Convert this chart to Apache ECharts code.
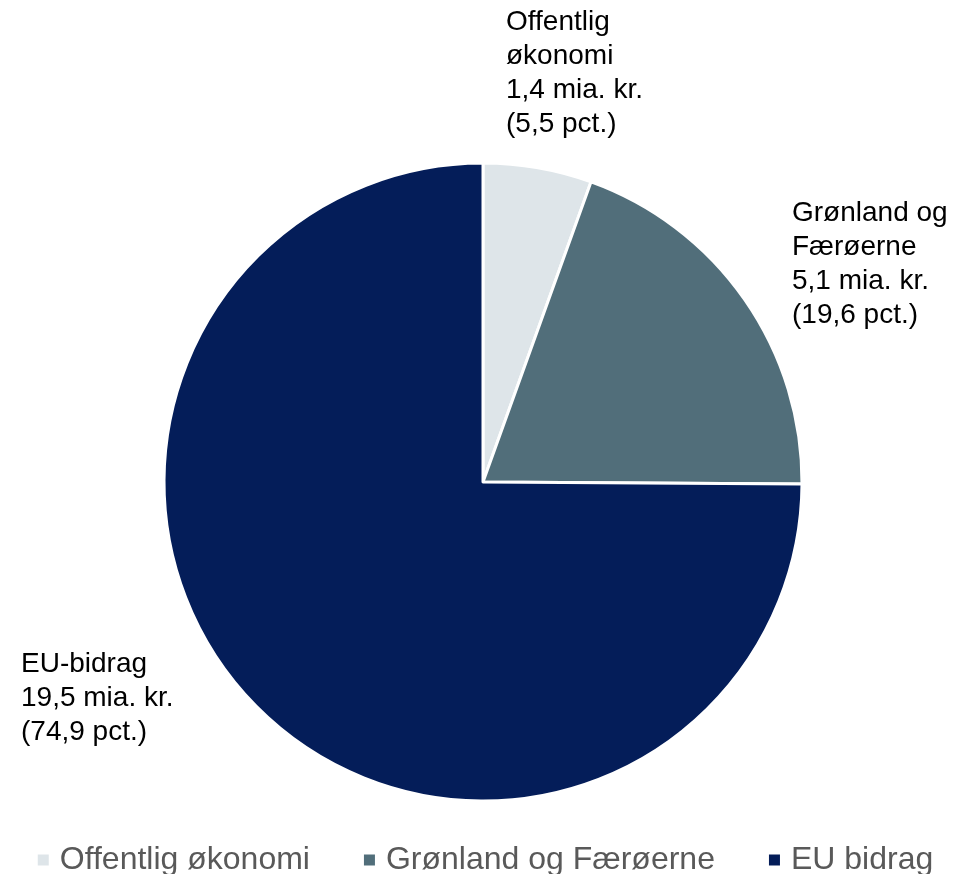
<!DOCTYPE html>
<html>
<head>
<meta charset="utf-8">
<script src="https://cdn.jsdelivr.net/npm/echarts@6/dist/echarts.min.js"></script>
<style>
html,body{margin:0;padding:0;background:#fff;}
#main{width:969px;height:874px;}
</style>
</head>
<body>
<div id="main"></div>
<script>
var categories = ['Offentlig økonomi', 'Grønland og Færøerne', 'EU bidrag'];
var labelNames = ['Offentlig\nøkonomi', 'Grønland og\nFærøerne', 'EU-bidrag'];
var amounts = ['1,4', '5,1', '19,5'];
var pcts = [5.5, 19.6, 74.9];
var colors = ['#dee5e9', '#516e7a', '#041d59'];

var labelPos = [
  {x: 506, y: 5},
  {x: 792, y: 196},
  {x: 21, y: 647}
];

var FONT = "'Liberation Sans', Arial, sans-serif";
var chart = echarts.init(document.getElementById('main'));
var data = categories.map(function (c, i) {
  return { name: c, value: pcts[i], itemStyle: { color: colors[i] } };
});
chart.setOption({
  animation: false,
  legend: {
    top: 839,
    left: 'center',
    itemWidth: 13,
    itemHeight: 13,
    itemGap: 52,
    icon: 'rect',
    textStyle: { fontFamily: FONT, fontSize: 32, color: '#595959', padding: [0, 0, 0, 5] },
    data: categories
  },
  series: [{
    type: 'pie',
    center: [483, 482],
    radius: 319,
    startAngle: 90,
    clockwise: true,
    itemStyle: { borderColor: '#ffffff', borderWidth: 3 },
    label: {
      show: true,
      position: 'outside',
      fontFamily: FONT,
      fontSize: 28,
      lineHeight: 34,
      color: '#000000',
      formatter: function (p) {
        var i = p.dataIndex;
        return labelNames[i] + '\n' + amounts[i] + ' mia. kr.\n(' + String(pcts[i]).replace('.', ',') + ' pct.)';
      }
    },
    labelLine: { show: false },
    labelLayout: function (params) {
      var p = labelPos[params.dataIndex];
      return { x: p.x, y: p.y, align: 'left', verticalAlign: 'top' };
    },
    emphasis: { disabled: true },
    data: data
  }]
});
</script>
</body>
</html>
